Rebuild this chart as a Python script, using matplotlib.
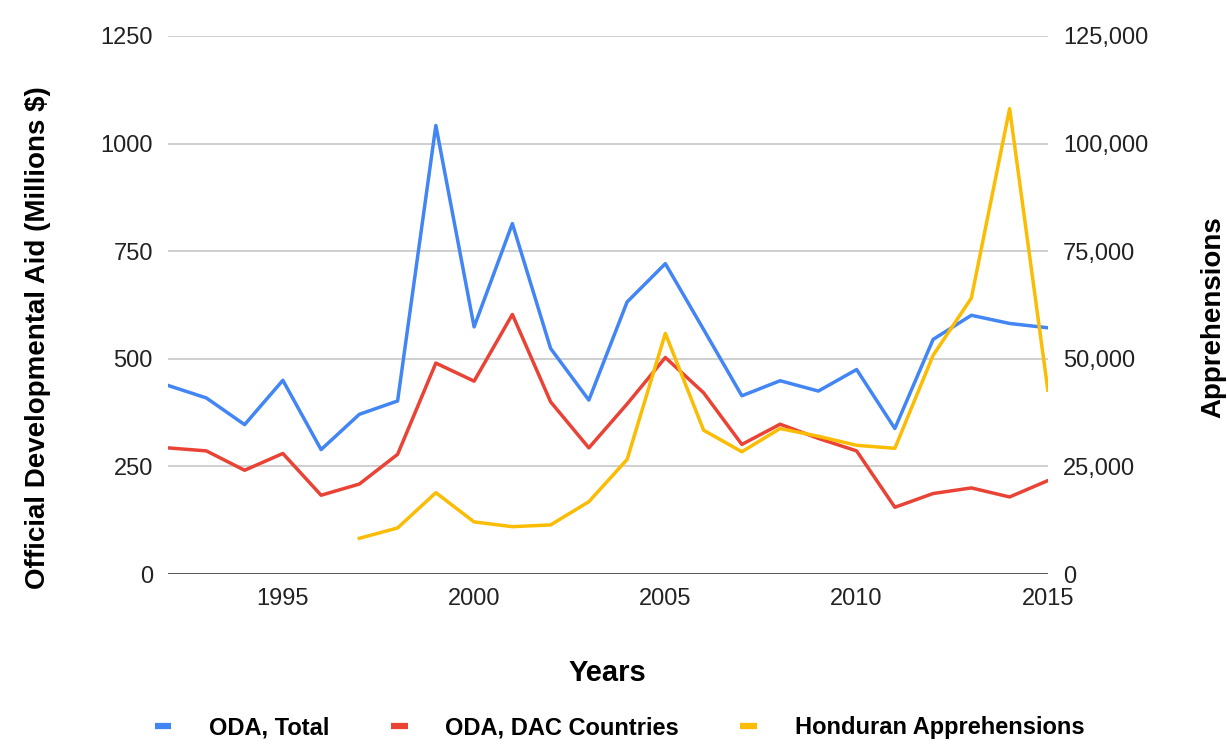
import numpy as np
import matplotlib
matplotlib.use("Agg")
import matplotlib.pyplot as plt
from matplotlib.lines import Line2D
from matplotlib.ticker import FuncFormatter

plt.rcParams['font.family'] = ['Liberation Sans', 'DejaVu Sans']

# data
years = list(range(1992, 2016))
oda_total = [438, 409, 347, 450, 289, 371, 402, 1042, 574, 814, 524, 404,
             632, 721, 568, 414, 449, 425, 475, 338, 545, 601, 582, 572]
oda_dac = [293, 286, 241, 280, 183, 209, 278, 490, 448, 603, 400, 293,
           395, 503, 421, 301, 348, 315, 286, 155, 187, 200, 179, 217]
appr_years = list(range(1997, 2016))
apprehensions = [8300, 10700, 18900, 12100, 11000, 11400, 16800, 26600, 55900,
                 33400, 28400, 33800, 32000, 29900, 29200, 50800, 64100, 108100, 42700]

blue, red, yellow = '#4285f4', '#ea4335', '#fbbc04'

fig = plt.figure(figsize=(12.27, 7.48), dpi=100)
ax = fig.add_axes([0.137, 0.2326, 0.717, 0.7194])
ax2 = ax.twinx()

ax.plot(years, oda_total, color=blue, lw=2.5, zorder=3)
ax.plot(years, oda_dac, color=red, lw=2.5, zorder=3)
ax2.plot(appr_years, apprehensions, color=yellow, lw=2.5, zorder=3)

ax.set_xlim(1992, 2015)
ax.set_ylim(0, 1250)
ax2.set_ylim(0, 125000)
ax.set_xticks([1995, 2000, 2005, 2010, 2015])
ax.set_yticks([0, 250, 500, 750, 1000, 1250])
ax2.set_yticks([0, 25000, 50000, 75000, 100000, 125000])
ax2.yaxis.set_major_formatter(FuncFormatter(lambda v, p: f'{int(v):,}'))

ax.grid(axis='y', color='#cccccc', lw=1.3)
ax.set_axisbelow(True)
for a in (ax, ax2):
    for s in ('top', 'right', 'left', 'bottom'):
        a.spines[s].set_visible(False)
    a.tick_params(length=0, labelsize=17, colors='#222222')
ax.axhline(0, color='#333333', lw=1.8, zorder=4)
ax.tick_params(axis='x', pad=10)
ax.tick_params(axis='y', pad=11)
ax2.tick_params(axis='y', pad=11)

# axis titles placed in figure coordinates
fig.text(0.495, 0.100, 'Years', fontsize=21, fontweight='bold', ha='center', va='center')
fig.text(0.031, 0.549, 'Official Developmental Aid (Millions $)', fontsize=20,
         fontweight='bold', rotation=90, ha='center', va='center')
fig.text(0.989, 0.576, 'Apprehensions', fontsize=20, fontweight='bold',
         rotation=90, ha='center', va='center')

handles = [Line2D([0], [0], color=c, lw=4.5, solid_capstyle='butt') for c in (blue, red, yellow)]
fig.legend(handles, ['ODA, Total', 'ODA, DAC Countries', 'Honduran Apprehensions'],
           loc='center', bbox_to_anchor=(0.505, 0.027), ncol=3, frameon=False,
           handlelength=0.7, columnspacing=2.6, handletextpad=1.6,
           prop={'size': 17, 'weight': 'bold'})

fig.savefig('out.png', dpi=100)
